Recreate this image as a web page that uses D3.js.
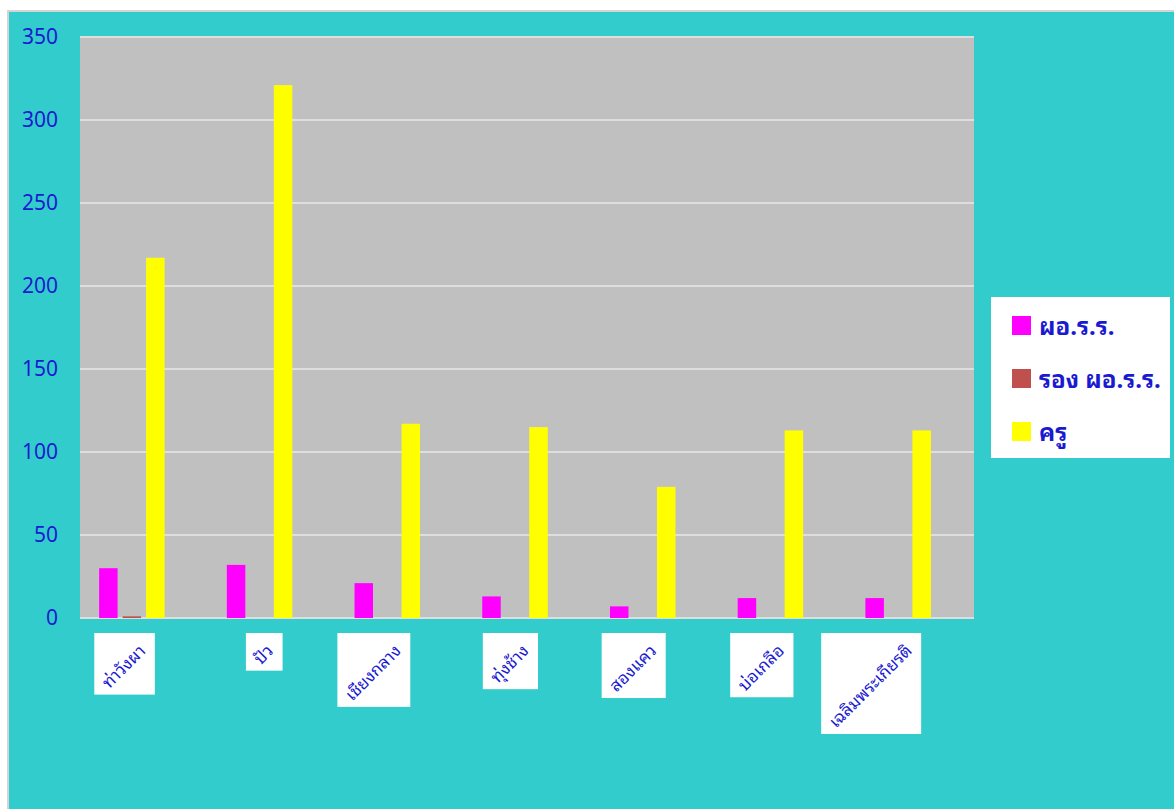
<!DOCTYPE html>
<html>
<head>
<meta charset="utf-8">
<script src="https://cdn.jsdelivr.net/npm/d3@7"></script>
<style>
	body { margin: 0; background: #ffffff; }
	svg text { font-family: "Noto Sans Thai Looped", "Tahoma", "Loma", "Garuda", "Kinnari", "Noto Sans Thai", "Noto Sans", sans-serif; }
</style>
</head>
<body>
<div id="svg-div"></div>
<script>
// Data
var categories = ["ท่าวังผา", "ปัว", "เชียงกลาง", "ทุ่งช้าง", "สองแคว", "บ่อเกลือ", "เฉลิมพระเกียรติ"];
var seriesNames = ["ผอ.ร.ร.", "รอง ผอ.ร.ร.", "ครู"];
var director = [30, 32, 21, 13, 7, 12, 12];
var deputy = [1, 0, 0, 0, 0, 0, 0];
var teacher = [217, 321, 117, 115, 79, 113, 113];
var yTicks = [0, 50, 100, 150, 200, 250, 300, 350];
var colors = ["#ff00ff", "#c0504d", "#ffff00"];

var chartProperties = {
	outerWidth: 1174,
	outerHeight: 809,
	plot: { left: 80, right: 974, top: 37, bottom: 618 }
};

var svg = d3.select("#svg-div")
	.append("svg")
	.attr("width", chartProperties.outerWidth)
	.attr("height", chartProperties.outerHeight);

// chart background
svg.append("rect")
	.attr("x", 7).attr("y", 10)
	.attr("width", 1174).attr("height", 809)
	.attr("fill", "#d4d4d4");
svg.append("rect")
	.attr("x", 9).attr("y", 12)
	.attr("width", 1174).attr("height", 809)
	.attr("fill", "#33cccc");

var p = chartProperties.plot;

svg.append("rect")
	.attr("x", p.left).attr("y", p.top)
	.attr("width", p.right - p.left).attr("height", p.bottom - p.top)
	.attr("fill", "#c0c0c0");

// Scales
var xScale = d3.scaleBand()
	.domain(categories)
	.range([p.left - 12, p.right - 12]);

var yScale = d3.scaleLinear()
	.domain([0, 350])
	.range([p.bottom, p.top]);

var barW = 18.5, barGap = 5;
var xInner = d3.scaleBand()
	.domain(seriesNames)
	.range([-(3 * barW + 2 * barGap) / 2, (3 * barW + 2 * barGap) / 2])
	.paddingInner(barGap / (barW + barGap));

// Gridlines
svg.append("g")
	.selectAll("line")
	.data(yTicks)
	.enter()
	.append("line")
	.attr("x1", p.left).attr("x2", p.right)
	.attr("y1", function(d) { return yScale(d); })
	.attr("y2", function(d) { return yScale(d); })
	.attr("stroke", "#dedede")
	.attr("stroke-width", 2);

// Y axis labels
var yAxis = d3.axisLeft(yScale)
	.tickValues(yTicks)
	.tickSize(0)
	.tickPadding(22);

var yg = svg.append("g")
	.attr("transform", "translate(" + p.left + ",0)")
	.call(yAxis);
yg.select(".domain").remove();
yg.selectAll("text")
	.attr("fill", "#1a1ad0")
	.style("font-size", "21px")
	.style("font-family", "'Noto Sans', sans-serif");

// Bars
var series = [director, deputy, teacher];
series.forEach(function(vals, s) {
	svg.append("g")
		.selectAll("rect")
		.data(vals)
		.enter()
		.append("rect")
		.attr("x", function(d, i) { return xScale(categories[i]) + xScale.bandwidth() / 2 + xInner(seriesNames[s]); })
		.attr("y", function(d) { return yScale(d); })
		.attr("width", xInner.bandwidth())
		.attr("height", function(d) { return yScale(0) - yScale(d); })
		.attr("fill", colors[s]);
});

// Category labels in white boxes
var labelG = svg.append("g");
categories.forEach(function(c) {
	var cx = xScale(c) + xScale.bandwidth() / 2;
	var g = labelG.append("g");
	var box = g.append("rect").attr("fill", "#ffffff");
	var t = g.append("text")
		.attr("transform", "translate(" + (cx + 18) + ",639) rotate(-45)")
		.attr("text-anchor", "end")
		.attr("dy", "0.75em")
		.attr("fill", "#1a1ad0")
		.style("font-size", "17px")
		.text(c);
	var r = t.node().getBoundingClientRect();
	// move so the text's top right corner sits inside the box corner
	var dx = (cx + 19) - r.right, dy = 637 - r.top;
	t.attr("transform", "translate(" + (cx + 18 + dx) + "," + (639 + dy) + ") rotate(-45)");
	r = t.node().getBoundingClientRect();
	box.attr("x", r.left).attr("y", 633)
		.attr("width", cx + 23 - r.left)
		.attr("height", r.bottom - 633 + 1);
});

// Legend
var legend = svg.append("g");
legend.append("rect")
	.attr("x", 991).attr("y", 297)
	.attr("width", 179).attr("height", 161)
	.attr("fill", "#ffffff");

var items = legend.selectAll(".item")
	.data(seriesNames)
	.enter()
	.append("g")
	.attr("transform", function(d, i) { return "translate(1012," + (316 + i * 53) + ")"; });

items.append("rect")
	.attr("width", 19).attr("height", 19)
	.attr("fill", function(d, i) { return colors[i]; });

items.append("text")
	.attr("x", 27)
	.attr("y", 11)
	.attr("dy", "0.35em")
	.attr("fill", "#1a1ad0")
	.style("font-size", "24px")
	.style("font-weight", "bold")
	.text(function(d) { return d; });
</script>
</body>
</html>
